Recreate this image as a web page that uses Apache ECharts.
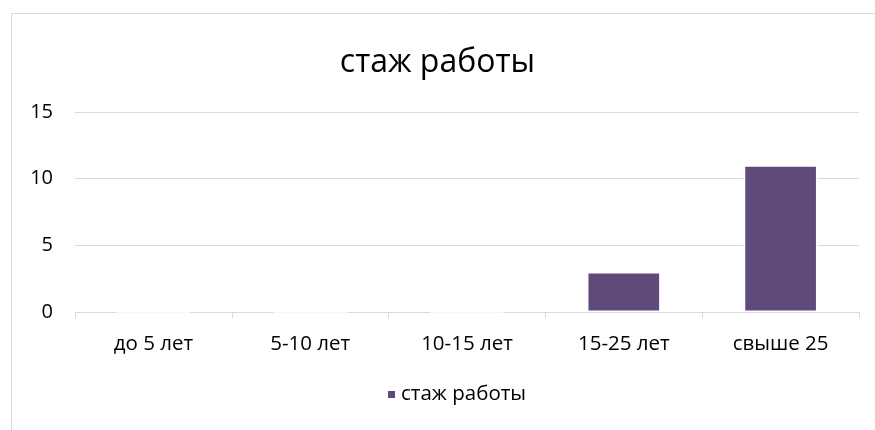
<!DOCTYPE html>
<html>
<head>
<meta charset="utf-8">
<script src="https://cdn.jsdelivr.net/npm/echarts@6/dist/echarts.min.js"></script>
<style>
  html, body { margin: 0; padding: 0; background: #fff; }
  #chart { width: 875px; height: 430px; }
</style>
</head>
<body>
<div id="chart"></div>
<script>
// данные диаграммы
const categories = ['до 5 лет', '5-10 лет', '10-15 лет', '15-25 лет', 'свыше 25'];
const values = [0, 0, 0, 3, 11];
const seriesName = 'стаж работы';
const titleText = 'стаж работы';

const font = '"Open Sans", "Noto Sans", sans-serif';

const myChart = echarts.init(document.getElementById('chart'));
myChart.setOption({
  animation: false,
  textStyle: { fontFamily: font },
  graphic: [{
    type: 'rect',
    shape: { x: 11.5, y: 13.5, width: 900, height: 500 },
    style: { fill: 'none', stroke: '#d9d9d9', lineWidth: 1 },
    silent: true
  }],
  title: {
    text: titleText,
    left: 'center',
    top: 42,
    textStyle: { fontFamily: font, fontSize: 32, fontWeight: 'normal', color: '#000' }
  },
  grid: { left: 75, right: 16, top: 112, bottom: 118 },
  legend: {
    bottom: 20,
    left: 381,
    icon: 'rect',
    itemWidth: 9,
    itemHeight: 9,
    itemGap: 6,
    textStyle: { fontFamily: font, fontSize: 20.5, color: '#000' },
    data: [seriesName]
  },
  xAxis: {
    type: 'category',
    data: categories,
    axisLine: { lineStyle: { color: '#d9d9d9' } },
    axisTick: { show: true, length: 6, lineStyle: { color: '#d9d9d9' } },
    axisLabel: { fontFamily: font, fontSize: 20.5, color: '#000', margin: 22 }
  },
  yAxis: {
    type: 'value',
    min: 0,
    max: 15,
    interval: 5,
    axisLine: { show: false },
    axisTick: { show: false },
    splitLine: { lineStyle: { color: '#d9d9d9' } },
    axisLabel: { fontFamily: font, fontSize: 20, color: '#000', margin: 22 }
  },
  series: [{
    name: seriesName,
    type: 'bar',
    data: values,
    barWidth: '47%',
    itemStyle: { color: '#604a7b', borderColor: '#fff', borderWidth: 1.5 }
  }]
});
</script>
</body>
</html>
